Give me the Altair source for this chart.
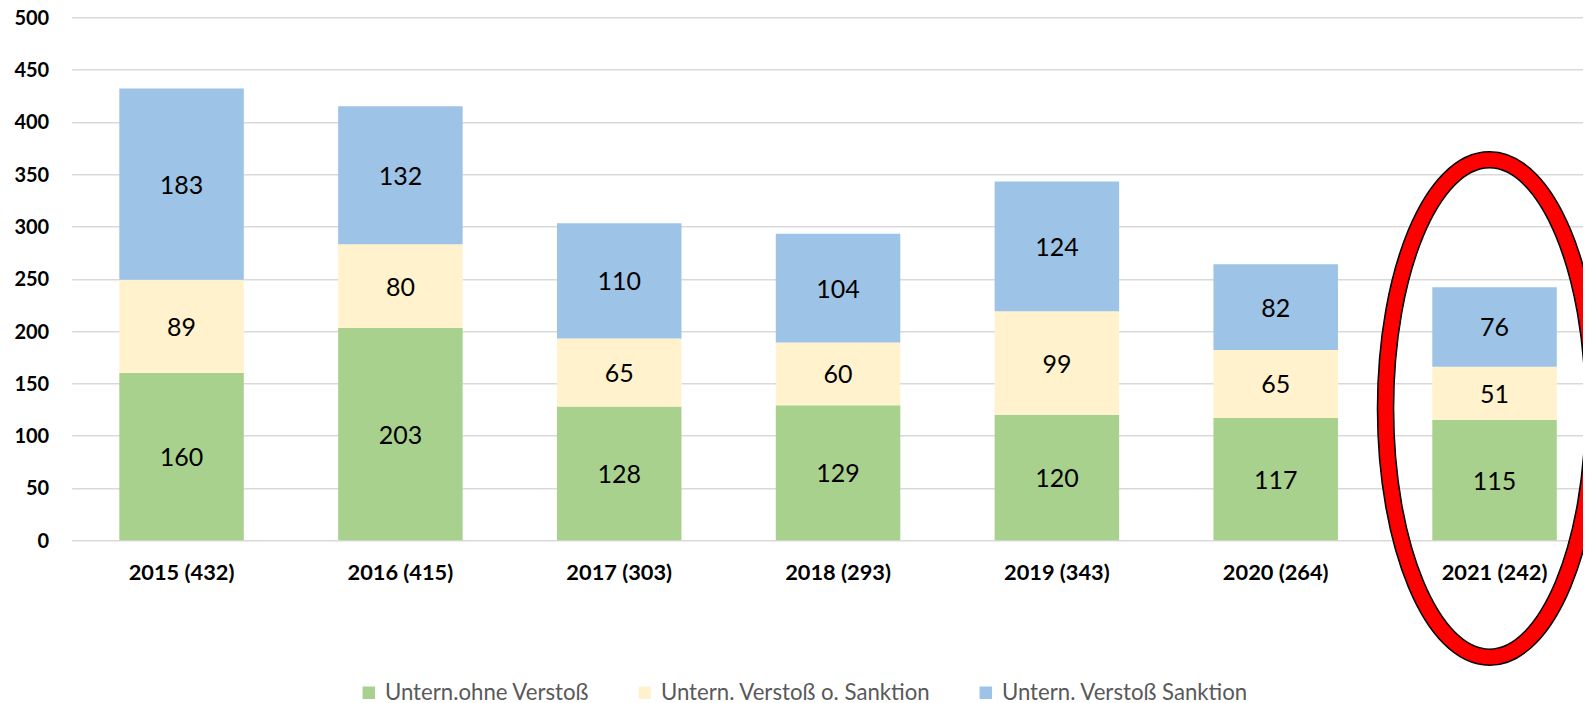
import altair as alt
import pandas as pd

# ---- data ----
years = ["2015", "2016", "2017", "2018", "2019", "2020", "2021"]
totals = [432, 415, 303, 293, 343, 264, 242]
series = ["Untern.ohne Verstoß", "Untern. Verstoß o. Sanktion", "Untern. Verstoß Sanktion"]
ohne_verstoss = [160, 203, 128, 129, 120, 117, 115]
verstoss_ohne_sanktion = [89, 80, 65, 60, 99, 65, 51]
verstoss_sanktion = [183, 132, 110, 104, 124, 82, 76]
colors = ["#A9D18E", "#FFF2CC", "#9DC3E6"]
y_ticks = [0, 50, 100, 150, 200, 250, 300, 350, 400, 450, 500]

# highlighted category (red ellipse annotation)
highlight_year = "2021"
highlight_center_value = 126

labels = [f"{y} ({t})" for y, t in zip(years, totals)]
rows = []
for i, lab in enumerate(labels):
    for k, (name, vals) in enumerate(zip(series, [ohne_verstoss, verstoss_ohne_sanktion, verstoss_sanktion])):
        rows.append({"label": lab, "series": name, "idx": k, "value": vals[i]})
df = pd.DataFrame(rows)

hl_label = labels[years.index(highlight_year)]
df_hl = pd.DataFrame([{"label": hl_label, "yc": highlight_center_value}])

FONT = "Lato"

x_enc = alt.X(
    "label:N",
    sort=labels,
    scale=alt.Scale(paddingInner=0.431, paddingOuter=0.1686, align=0.645),
    axis=alt.Axis(
        title=None, labelAngle=0, domain=False, ticks=False, grid=False,
        labelFont=FONT, labelFontWeight="bold", labelFontSize=21.8,
        labelColor="black", labelPadding=22,
    ),
)
y_scale = alt.Scale(domain=[0, 500], nice=False)
y_axis = alt.Axis(
    title=None, values=y_ticks, domain=False, ticks=False,
    labelFont=FONT, labelFontWeight="bold", labelFontSize=20,
    labelColor="black", labelPadding=23, labelOffset=1,
    gridColor="#D9D9D9", gridWidth=1.5,
)

base = alt.Chart(df).transform_stack(
    stack="value", groupby=["label"], as_=["v0", "v1"],
    sort=[alt.SortField("idx", order="ascending")],
).transform_calculate(mid="(datum.v0 + datum.v1) / 2")

bars = base.mark_bar().encode(
    x=x_enc,
    y=alt.Y("v0:Q", scale=y_scale, axis=y_axis),
    y2="v1:Q",
    color=alt.Color(
        "series:N",
        sort=series,
        scale=alt.Scale(domain=series, range=colors),
        legend=alt.Legend(
            title=None, orient="none", direction="horizontal",
            legendX=286, legendY=664, padding=0,
            symbolType="square", symbolSize=156, symbolStrokeWidth=0,
            labelFont=FONT, labelFontSize=22.2, labelColor="#595959",
            labelOffset=5, columnPadding=44, labelLimit=0,
        ),
    ),
)

text = base.mark_text(font=FONT, fontSize=25, color="black", baseline="middle", dy=1.5).encode(
    x=x_enc,
    y=alt.Y("mid:Q", scale=y_scale, axis=y_axis),
    text="value:Q",
)

a = 0.4182
k = 0.5523
ka = round(k * a, 4)
ellipse_path = (
    f"M 0 -1 C {ka} -1 {a} -{k} {a} 0 C {a} {k} {ka} 1 0 1 "
    f"C -{ka} 1 -{a} {k} -{a} 0 C -{a} -{k} -{ka} -1 0 -1 Z"
)
ell_size = 497.4 ** 2

ell_black = alt.Chart(df_hl).mark_point(
    shape=ellipse_path, size=ell_size, filled=False, stroke="black",
    strokeWidth=17.6, opacity=1, xOffset=-5,
).encode(x=x_enc, y=alt.Y("yc:Q", scale=y_scale, axis=y_axis))

ell_red = alt.Chart(df_hl).mark_point(
    shape=ellipse_path, size=ell_size, filled=False, stroke="#FF0000",
    strokeWidth=14.5, opacity=1, xOffset=-5,
).encode(x=x_enc, y=alt.Y("yc:Q", scale=y_scale, axis=y_axis))

chart = alt.layer(bars, text, ell_black, ell_red).properties(
    width=1511.3,
    height=523,
    autosize=alt.AutoSizeParams(type="none"),
    padding={"left": 63.7, "top": 9.3, "right": 0, "bottom": 170},
    background="white",
).configure_view(stroke=None)

chart.save("out.html", embed_options={"renderer": "svg", "actions": False})
